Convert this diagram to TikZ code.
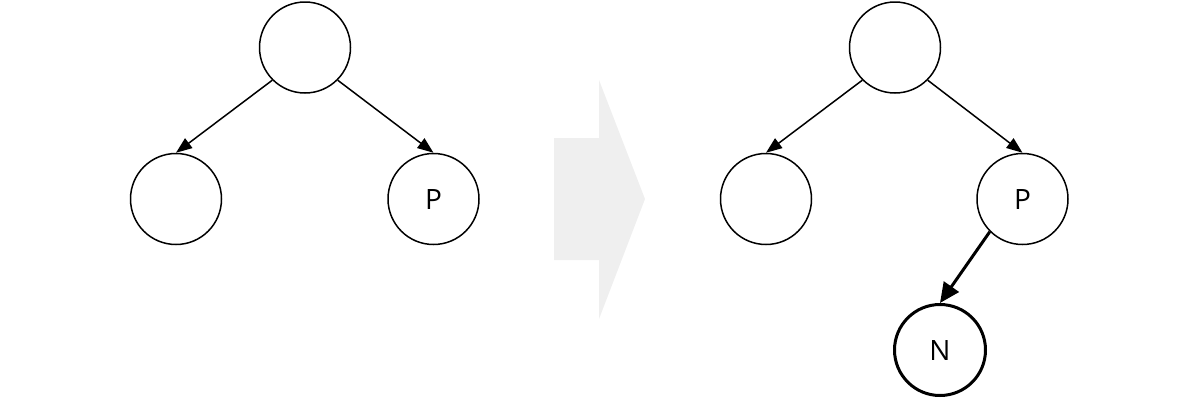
\documentclass[tikz,border=0pt]{standalone}
\usepackage{fontspec}
\setmainfont{Open Sans}
\usetikzlibrary{arrows.meta}
\definecolor{bigarrow}{HTML}{EFEFEF}
\begin{document}
\begin{tikzpicture}[x=1pt,y=-1pt,
  tnode/.style={circle,draw=black,line width=1.5pt,minimum size=91pt,inner sep=0pt,font=\fontsize{28}{32}\selectfont},
  newnode/.style={tnode,line width=3pt,minimum size=91pt},
  edge/.style={line width=1.5pt,-{Triangle[length=16pt,width=12pt]}},
  newedge/.style={line width=3pt,-{Triangle[length=20pt,width=18pt]}}]
\useasboundingbox (0,0) rectangle (1200,400);
% left tree
\node[tnode] (r1) at (305,47.5) {};
\node[tnode] (a1) at (176,199) {};
\node[tnode] (p1) at (433.5,199) {P};
\draw[edge] (r1.south west) -- (a1.north);
\draw[edge] (r1.south east) -- (p1.north);
% big arrow
\fill[bigarrow] (554,138) -- (599,138) -- (599,80) -- (645,199) -- (599,319) -- (599,260) -- (554,260) -- cycle;
% right tree
\node[tnode] (r2) at (895,47.5) {};
\node[tnode] (a2) at (766,199) {};
\node[tnode] (p2) at (1022.5,199) {P};
\node[newnode] (n2) at (940,350) {N};
\draw[edge] (r2.south west) -- (a2.north);
\draw[edge] (r2.south east) -- (p2.north);
\draw[newedge] (p2.south west) -- (n2.north);
\end{tikzpicture}
\end{document}
